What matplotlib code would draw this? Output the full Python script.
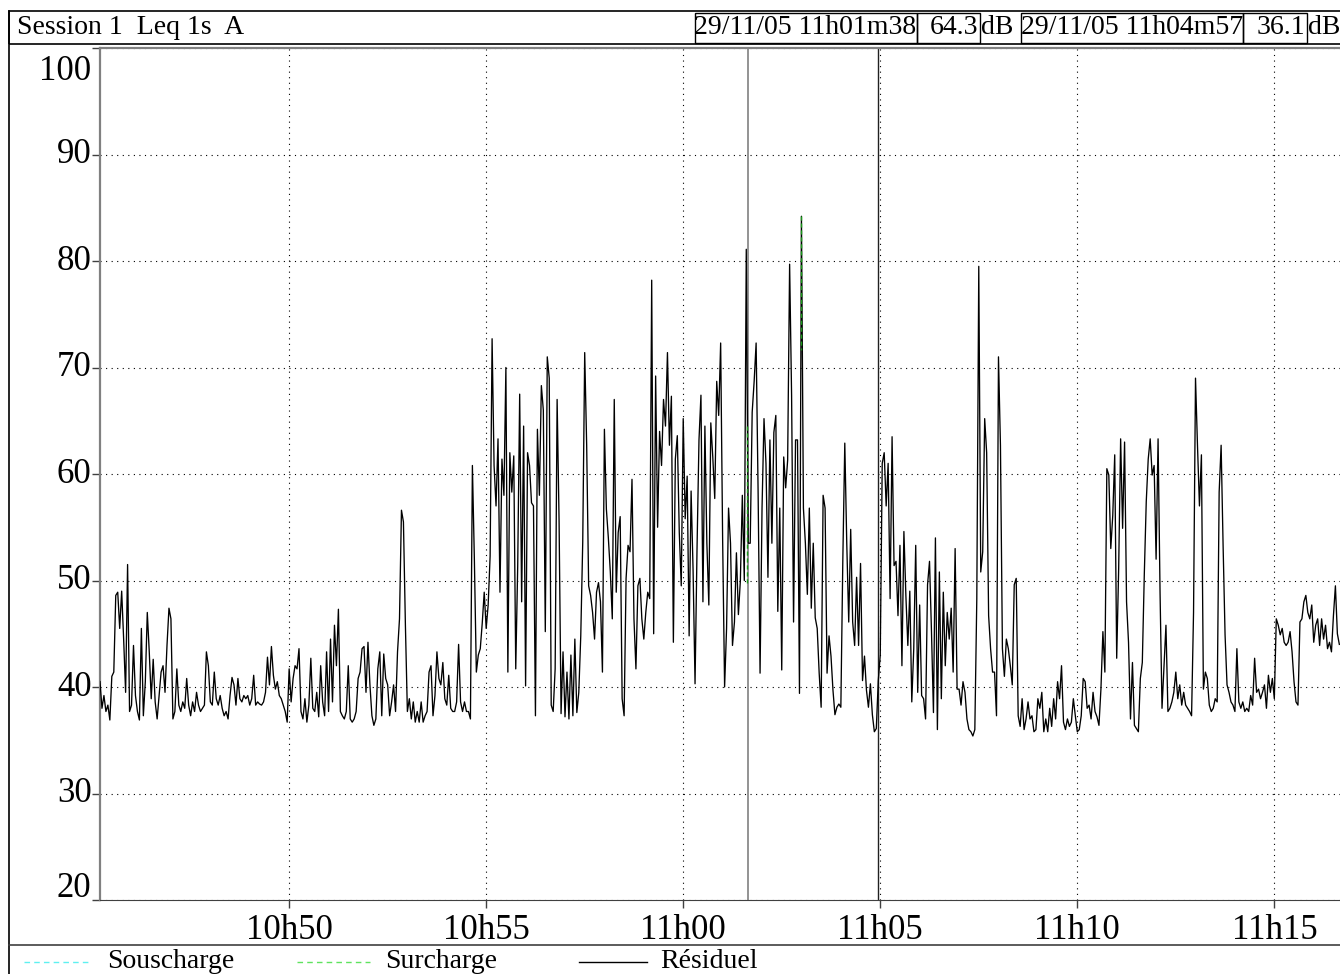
import numpy as np
import matplotlib.pyplot as plt
from matplotlib.lines import Line2D
from matplotlib.patches import Rectangle
from matplotlib.transforms import blended_transform_factory

W, H = 1340, 974
FONT = "Liberation Serif"

# -------- data --------
start_time = "10:45:12"     # first sample
step_s = 3
leq_db = [
    40.5, 38.0, 39.2, 37.7, 38.3, 36.9, 41.0, 41.4, 48.6, 48.9, 45.5, 49.0, 44.5, 39.5, 51.5, 37.7, 38.3, 43.9, 39.2, 37.7,
    36.9, 45.5, 37.3, 40.5, 47.0, 43.3, 38.9, 42.6, 38.6, 37.0, 39.2, 41.4, 42.0, 39.5, 43.9, 47.4, 46.4, 37.0, 37.7, 41.7,
    38.3, 37.7, 38.6, 38.0, 40.8, 38.3, 37.3, 38.6, 37.7, 39.5, 38.3, 37.7, 38.0, 38.3, 43.3, 42.0, 38.6, 38.3, 41.4, 38.9,
    38.3, 39.2, 38.0, 37.3, 37.7, 37.0, 39.2, 40.9, 40.2, 38.3, 40.8, 38.9, 38.6, 39.2, 38.9, 39.2, 38.3, 38.9, 41.1, 38.3,
    38.6, 38.4, 38.3, 38.6, 39.5, 42.8, 40.2, 43.8, 41.1, 39.8, 40.5, 39.2, 38.9, 38.3, 37.7, 36.7, 41.7, 38.6, 40.8, 42.0,
    41.7, 43.6, 37.7, 37.0, 38.9, 36.7, 38.3, 42.7, 38.0, 37.7, 39.5, 37.2, 42.0, 38.6, 37.3, 43.3, 37.7, 44.5, 38.6, 45.8,
    42.0, 47.3, 37.7, 37.3, 37.0, 37.7, 42.0, 37.0, 36.7, 37.0, 37.7, 40.8, 41.4, 43.6, 43.8, 39.5, 44.2, 40.2, 37.3, 36.4,
    37.0, 41.7, 43.3, 37.3, 43.1, 40.8, 40.2, 37.3, 38.6, 40.2, 37.7, 43.3, 46.4, 56.6, 55.5, 45.8, 37.7, 38.9, 37.0, 38.6,
    36.7, 37.7, 36.7, 38.6, 36.7, 37.3, 37.7, 41.4, 42.0, 37.3, 39.2, 43.3, 40.8, 40.2, 42.3, 38.9, 38.3, 41.1, 38.0, 37.7,
    37.7, 38.6, 44.0, 38.6, 37.7, 38.6, 37.7, 37.7, 37.0, 60.8, 52.0, 41.4, 43.0, 43.6, 46.0, 48.9, 45.5, 47.7, 52.3, 72.7,
    60.8, 57.0, 63.3, 48.9, 61.4, 58.0, 70.0, 41.4, 62.0, 58.3, 61.7, 41.7, 51.4, 67.5, 48.0, 64.5, 40.1, 62.0, 60.8, 57.3,
    57.0, 37.3, 64.2, 58.0, 68.3, 66.0, 45.2, 71.0, 69.0, 38.3, 37.7, 41.7, 67.0, 55.5, 37.5, 43.3, 37.2, 41.4, 37.0, 43.0,
    37.3, 44.5, 37.6, 39.5, 44.8, 53.6, 71.4, 62.7, 49.5, 48.6, 47.0, 44.5, 48.9, 49.8, 48.0, 41.4, 64.2, 56.7, 54.0, 50.8,
    46.4, 67.0, 48.9, 54.5, 56.0, 38.9, 37.3, 50.2, 53.3, 52.7, 59.5, 46.4, 41.7, 49.5, 50.2, 46.4, 44.5, 47.0, 48.9, 48.3,
    78.2, 45.0, 69.2, 55.0, 64.0, 60.8, 67.0, 64.5, 71.4, 62.7, 67.3, 44.2, 61.4, 63.6, 54.5, 49.5, 65.2, 55.8, 59.8, 44.8,
    58.4, 51.0, 40.3, 52.9, 63.2, 67.4, 48.0, 64.5, 53.5, 47.7, 64.8, 61.6, 57.7, 68.7, 65.5, 72.3, 53.9, 40.0, 45.5, 56.8,
    53.5, 43.9, 46.1, 52.6, 46.8, 50.0, 58.0, 50.0, 81.1, 53.5, 53.5, 65.8, 68.7, 72.3, 58.4, 41.3, 56.8, 65.2, 61.0, 50.3,
    63.2, 53.5, 63.9, 65.5, 47.1, 56.8, 41.6, 61.6, 58.7, 61.3, 79.7, 67.4, 46.1, 63.2, 63.2, 39.4, 84.2, 56.8, 53.5, 48.7,
    56.8, 47.4, 53.5, 46.5, 45.5, 41.3, 38.1, 58.0, 56.8, 41.3, 44.8, 42.9, 39.7, 37.4, 38.1, 38.4, 38.1, 51.9, 62.9, 53.5,
    46.1, 54.8, 46.1, 43.9, 50.3, 43.9, 51.6, 40.6, 42.9, 39.7, 38.1, 40.3, 37.4, 35.8, 36.1, 40.6, 43.0, 61.0, 62.0, 57.0,
    61.0, 48.3, 63.5, 51.4, 51.8, 46.7, 53.3, 42.0, 54.6, 48.6, 43.9, 49.0, 38.6, 43.6, 53.3, 39.5, 47.7, 39.2, 38.9, 37.0,
    49.6, 51.8, 45.2, 37.6, 54.0, 36.0, 50.8, 38.9, 48.9, 42.0, 47.0, 44.5, 47.4, 41.4, 53.0, 39.8, 39.8, 38.3, 40.5, 39.5,
    37.0, 36.0, 35.8, 35.4, 36.0, 48.3, 79.5, 50.8, 52.7, 65.2, 62.0, 46.7, 43.6, 41.4, 41.4, 37.3, 71.0, 62.7, 43.6, 41.0,
    44.5, 43.6, 42.0, 40.2, 49.6, 50.2, 37.3, 36.3, 38.9, 36.0, 37.0, 38.6, 37.0, 37.3, 35.8, 36.0, 38.9, 38.0, 39.5, 35.8,
    37.0, 35.8, 38.0, 36.3, 38.9, 37.0, 40.5, 38.9, 42.0, 36.7, 36.0, 37.0, 36.3, 36.7, 38.9, 37.3, 35.8, 36.0, 37.3, 40.8,
    40.5, 38.0, 38.3, 37.0, 39.5, 37.7, 37.2, 36.4, 39.8, 45.2, 41.4, 60.5, 59.9, 53.0, 56.1, 61.8, 42.7, 51.1, 63.3, 54.9,
    63.0, 48.0, 44.2, 37.0, 42.3, 36.4, 36.1, 35.8, 40.8, 42.3, 50.5, 57.4, 61.4, 63.3, 59.9, 60.8, 52.0, 63.3, 48.9, 38.0,
    42.0, 45.8, 37.7, 38.0, 38.6, 39.5, 41.4, 38.9, 40.2, 38.3, 39.5, 38.3, 38.0, 37.7, 37.3, 47.0, 69.0, 62.7, 57.0, 61.8,
    39.8, 41.4, 40.8, 38.3, 37.7, 38.0, 38.9, 38.6, 58.3, 62.7, 53.3, 44.9, 40.2, 39.5, 38.6, 38.3, 37.7, 43.6, 38.6, 38.0,
    38.6, 37.7, 38.0, 37.7, 39.2, 38.3, 42.7, 39.5, 39.8, 38.9, 39.5, 40.2, 38.0, 41.1, 39.5, 40.8, 38.9, 46.4, 45.8, 44.9,
    45.5, 44.2, 43.9, 44.2, 45.2, 43.3, 40.5, 38.6, 38.3, 46.1, 46.4, 48.0, 48.6, 47.0, 46.4, 47.7, 44.2, 45.8, 46.4, 43.9,
    46.4, 44.5, 45.8, 43.6, 44.2, 43.3, 46.7, 49.5, 45.0, 44.0,
]

# overload (Surcharge) segments, None breaks the line
surcharge_t = ["11:01:37", "11:01:37", None, "11:03:00", "11:03:00"]
surcharge_db = [64.5, 49.7, None, 84.2, 71.6]

cursor_date = "29/11/05"
cursor_times = ["11:01:38", "11:04:57"]
cursor_db = [64.3, 36.1]

session_label = "Session 1  Leq 1s  A"
xtick_times = ["10:50", "10:55", "11:00", "11:05", "11:10", "11:15"]
yticks = [20, 30, 40, 50, 60, 70, 80, 90, 100]
view_start, view_end = "10:45:12", "11:16:40"

legend_labels = ["Souscharge", "Surcharge", "Résiduel"]
legend_colors = ["#5ff0f0", "#5fe35f", "black"]
legend_styles = [(0, (4, 3)), (0, (4, 3)), "-"]


def hms(s):
    parts = [int(v) for v in s.split(":")]
    parts += [0] * (3 - len(parts))
    return parts[0] * 3600 + parts[1] * 60 + parts[2]


def stamp(s):
    # "11:01:38" -> "11h01m38"
    h, m, sec = s.split(":")
    return f"{h}h{m}m{sec}"


def fx(x):
    return x / W


def fy(y):
    return 1 - y / H


# -------- figure --------
fig = plt.figure(figsize=(W / 100, H / 100), dpi=100)
ax = fig.add_axes([fx(100), fy(900), fx(1340) - fx(100), fy(48) - fy(900)])

t = hms(start_time) + step_s * np.arange(len(leq_db))
ax.plot(t, leq_db, color="black", lw=0.95, zorder=3)

st = [np.nan if v is None else hms(v) for v in surcharge_t]
sd = [np.nan if v is None else v for v in surcharge_db]
ax.plot(st, sd, color="#1a9a1a", lw=1.0, ls=(0, (3, 2)), zorder=4)

# cursors
ax.axvline(hms(cursor_times[0]), color="#808080", lw=1.2, zorder=2)
ax.axvline(hms(cursor_times[1]), color="#202020", lw=1.0, zorder=2)

ax.set_xlim(hms(view_start), hms(view_end))
ax.set_ylim(20, 100)
ax.set_xticks([hms(v) for v in xtick_times])
ax.set_xticklabels([v.replace(":", "h") for v in xtick_times], family=FONT)
ax.set_yticks(yticks)
ax.set_yticklabels([])
ax.grid(True, color="black", lw=0.8, ls=(0, (1, 4)))
ax.tick_params(axis="x", length=6, width=1, pad=4, labelsize=25, color="#404040")
ax.tick_params(axis="y", length=6, width=1, color="#404040")

# y labels drawn by hand: top and bottom ones are pulled inside the frame
ytrans = blended_transform_factory(ax.transAxes, ax.transData)
ynudge = {100: -2.2, 20: 1.1}
for v in yticks:
    ax.text(-0.0068, v + ynudge.get(v, 0), str(v), transform=ytrans, ha="right",
            va="center", family=FONT, fontsize=25)

for side in ["left", "top"]:
    ax.spines[side].set_color("#808080")
    ax.spines[side].set_linewidth(1.6)
ax.spines["bottom"].set_color("#404040")
ax.spines["right"].set_visible(False)

# -------- header band --------
def box(x0, x1, y0=11, y1=44, lw=1.0):
    fig.add_artist(Rectangle((fx(x0), fy(y1)), fx(x1) - fx(x0), fy(y0) - fy(y1),
                             fill=False, ec="black", lw=lw, transform=fig.transFigure))

box(9, 1345, lw=1.2)
for x0, x1 in [(694.5, 916.5), (916.5, 979.5), (1021, 1243), (1243, 1307)]:
    box(x0, x1, 12.5, 42.5)

txt = dict(family=FONT, fontsize=20, color="black", va="center")
hy = fy(27.5)
fig.text(fx(17), hy, session_label, ha="left", **txt)
fig.text(fx(805.5), hy, f"{cursor_date} {stamp(cursor_times[0])}", ha="center", **txt)
fig.text(fx(978), hy, f"{cursor_db[0]:.1f}", ha="right", **txt)
fig.text(fx(981), hy, "dB", ha="left", **txt)
fig.text(fx(1132), hy, f"{cursor_date} {stamp(cursor_times[1])}", ha="center", **txt)
fig.text(fx(1305), hy, f"{cursor_db[1]:.1f}", ha="right", **txt)
fig.text(fx(1308), hy, "dB", ha="left", **txt)

# -------- frame + legend row --------
fig.add_artist(Line2D([fx(9), fx(9)], [fy(11), fy(974)], color="black", lw=1.2))
fig.add_artist(Line2D([fx(9), fx(1340)], [fy(945), fy(945)], color="#404040", lw=1.2))

leg_x = [(24, 92, 107), (297, 370, 385), (579, 647, 660)]
for (x0, x1, xt), lab, col, ls in zip(leg_x, legend_labels, legend_colors, legend_styles):
    fig.add_artist(Line2D([fx(x0), fx(x1)], [fy(962), fy(962)], color=col, lw=1.0, ls=ls))
    fig.text(fx(xt), fy(961), lab, ha="left", **txt)

fig.savefig("out.png", dpi=100)
